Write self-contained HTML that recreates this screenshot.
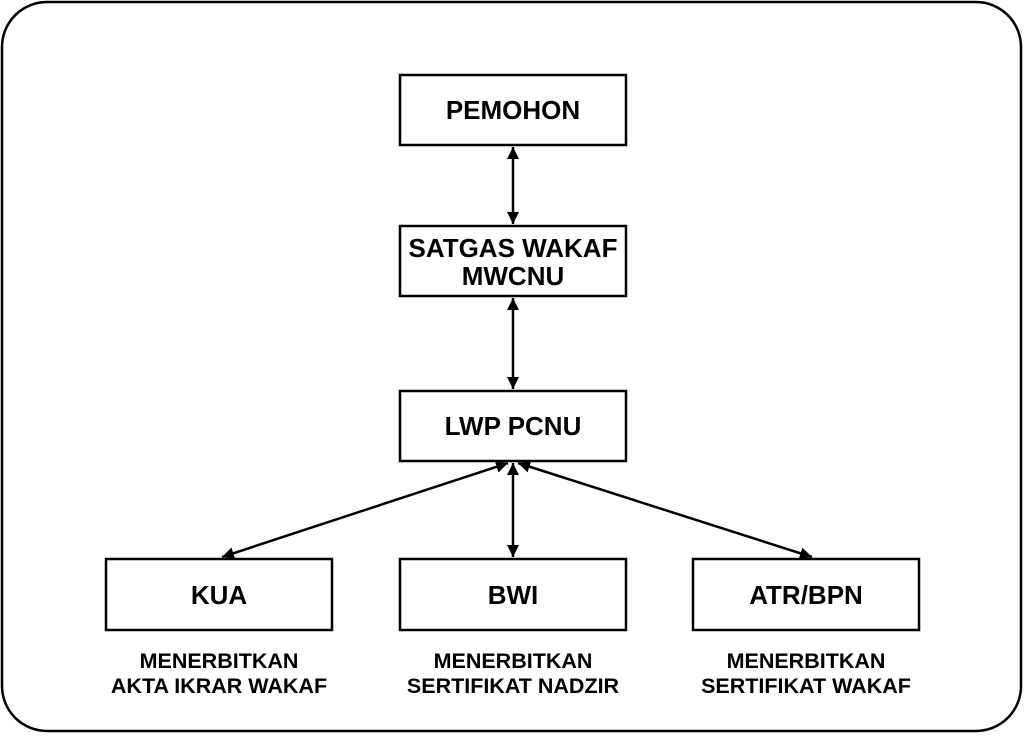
<!DOCTYPE html>
<html><head><style>
body{margin:0;background:#fff}
text{font-family:"Liberation Sans",Arial,sans-serif;font-weight:bold;fill:#000}
</style></head><body>
<svg width="1024" height="734" viewBox="0 0 1024 734" xmlns="http://www.w3.org/2000/svg">
<defs>
<marker id="a" markerWidth="14" markerHeight="14" refX="12" refY="6" orient="auto-start-reverse" markerUnits="userSpaceOnUse">
<path d="M0,0 L12,6 L0,12 Z" fill="#000"/>
</marker>
</defs>
<rect x="2" y="2" width="1019" height="729" rx="45" fill="#fff" stroke="#000" stroke-width="2.5"/>
<g fill="#fff" stroke="#000" stroke-width="2.5">
<rect x="400" y="75" width="226" height="70"/>
<rect x="400" y="226" width="226" height="70"/>
<rect x="400" y="391" width="226" height="70"/>
<rect x="106" y="559" width="226" height="71"/>
<rect x="400" y="559" width="226" height="71"/>
<rect x="693" y="559" width="226" height="71"/>
</g>
<g stroke="#000" stroke-width="2.5" marker-start="url(#a)" marker-end="url(#a)">
<line x1="513" y1="147" x2="513" y2="224"/>
<line x1="513" y1="298" x2="513" y2="389"/>
<line x1="513" y1="463" x2="513" y2="557"/>
<line x1="508" y1="463" x2="222" y2="557"/>
<line x1="518" y1="463" x2="812" y2="557"/>
</g>
<g font-size="26" text-anchor="middle">
<text x="513" y="119">PEMOHON</text>
<text x="513" y="257">SATGAS WAKAF</text>
<text x="513" y="285">MWCNU</text>
<text x="513" y="435">LWP PCNU</text>
<text x="219" y="604">KUA</text>
<text x="513" y="604">BWI</text>
<text x="806" y="604">ATR/BPN</text>
</g>
<g font-size="21.5" text-anchor="middle">
<text x="219" y="668">MENERBITKAN</text>
<text x="219" y="693">AKTA IKRAR WAKAF</text>
<text x="513" y="668">MENERBITKAN</text>
<text x="513" y="693">SERTIFIKAT NADZIR</text>
<text x="806" y="668">MENERBITKAN</text>
<text x="806" y="693">SERTIFIKAT WAKAF</text>
</g>
</svg>
</body></html>
